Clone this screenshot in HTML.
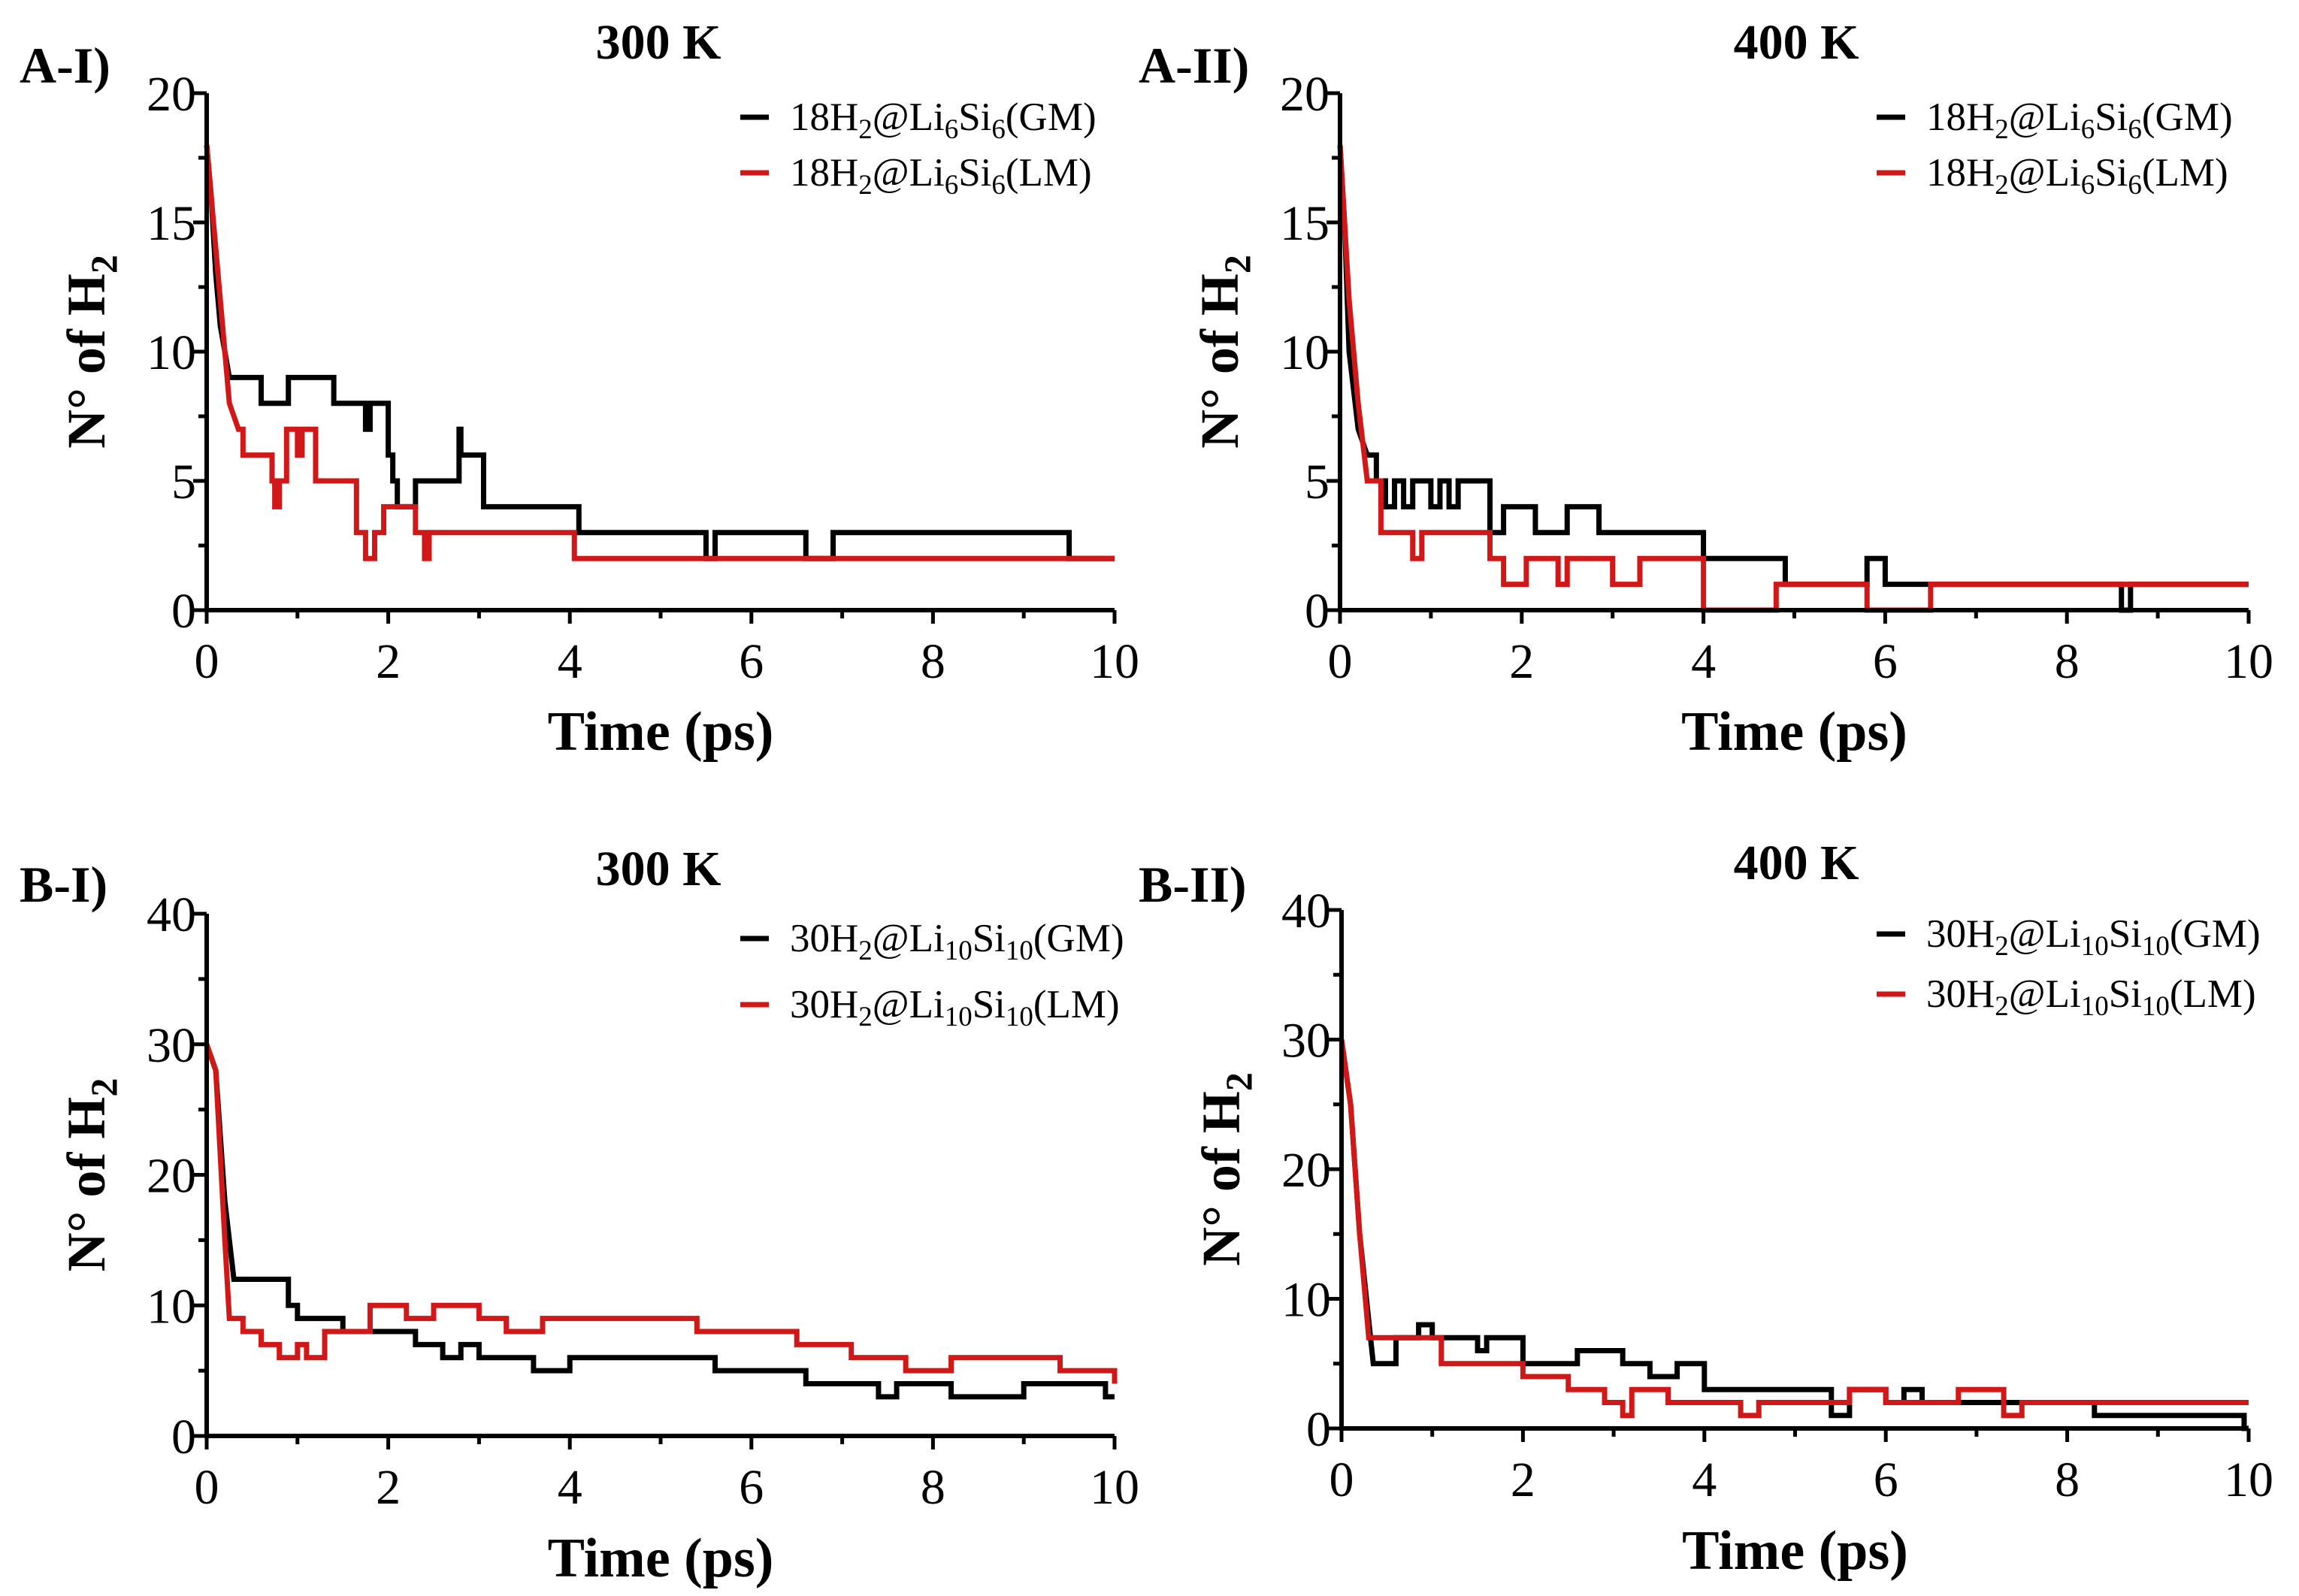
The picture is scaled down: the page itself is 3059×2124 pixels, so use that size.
<!DOCTYPE html>
<html><head><meta charset="utf-8"><style>
body{margin:0;background:#fff}
svg{display:block}
text{font-family:"Liberation Serif",serif}
</style></head><body>
<svg id="fig" width="3059" height="2124" viewBox="0 0 3059 2124" xmlns="http://www.w3.org/2000/svg"></svg>
<script>
// ---- data ----
const xTicks=[0,2,4,6,8,10];
const yTicksA=[0,5,10,15,20];
const yTicksB=[0,10,20,30,40];
const a1GmT=[0,0.05,0.1,0.15,0.2,0.25,0.3,0.6,0.9,1.0,1.4,1.7,1.75,1.8,2.0,2.05,2.1,2.2,2.3,2.7,2.78,2.8,2.85,3.05,4.1,5.5,5.6,5.7,6.6,6.9,9.5,10];
const a1GmV=[18,16,13,11,10,9,9,8,9,9,8,8,7,8,6,5,4,4,5,5,7,6,6,4,3,2,3,3,2,3,2,2];
const a1LmT=[0,0.1,0.2,0.25,0.35,0.4,0.55,0.72,0.75,0.8,0.88,1.0,1.05,1.15,1.2,1.3,1.65,1.75,1.85,1.95,2.3,2.4,2.45,2.6,3.5,4.05,10];
const a1LmV=[18,14,10,8,7,6,6,5,4,5,7,6,7,7,5,5,3,2,3,4,3,2,3,3,3,2,2];
const a2GmT=[0,0.05,0.1,0.2,0.3,0.4,0.5,0.6,0.7,0.8,0.9,1.0,1.1,1.2,1.3,1.4,1.65,1.8,2.15,2.5,2.85,3.3,4.0,4.9,5.8,6.0,8.6,8.7,10];
const a2GmV=[18,15,10,7,6,5,4,5,4,5,5,4,5,4,5,5,3,4,3,4,3,3,2,1,2,1,0,1,1];
const a2LmT=[0,0.1,0.2,0.3,0.45,0.8,0.9,1.65,1.8,2.05,2.4,2.5,3.0,3.3,4.0,4.8,5.8,6.5,10];
const a2LmV=[18,12,8,5,3,2,3,2,1,2,1,2,1,2,0,1,0,1,1];
const b1GmT=[0,0.1,0.2,0.3,0.9,1.0,1.2,1.5,1.75,2.2,2.3,2.6,2.8,3.0,3.3,3.6,4.0,4.6,5.6,6.6,7.4,7.6,8.2,9.0,9.5,9.9,10];
const b1GmV=[30,28,18,12,10,9,9,8,8,8,7,6,7,6,6,5,6,6,5,4,3,4,3,4,4,3,3];
const b1LmT=[0,0.1,0.2,0.25,0.4,0.6,0.8,1.0,1.1,1.3,1.6,1.8,2.2,2.5,3.0,3.3,3.7,5.4,6.0,6.5,7.1,7.7,8.2,9.4,10];
const b1LmV=[30,28,15,9,8,7,6,7,6,8,8,10,9,10,9,8,9,8,8,7,6,5,6,5,4];
const b2GmT=[0,0.1,0.2,0.35,0.6,0.85,1.0,1.5,1.6,2.0,2.6,3.1,3.4,3.7,4.0,5.4,5.6,6.0,6.2,6.4,8.3,9.95,10];
const b2GmV=[30,25,15,5,7,8,7,6,7,5,6,5,4,5,3,1,3,2,3,2,1,0,0];
const b2LmT=[0,0.1,0.2,0.3,0.9,1.1,2.0,2.5,2.9,3.1,3.2,3.6,4.4,4.6,5.6,6.0,6.8,7.3,7.5,10];
const b2LmV=[30,25,15,7,7,5,4,3,2,1,3,2,1,2,3,2,3,1,2,2];

const svg=document.getElementById('fig');
const NS='http://www.w3.org/2000/svg';
function mk(tag,attrs,parent){const e=document.createElementNS(NS,tag);for(const k in attrs)e.setAttribute(k,attrs[k]);(parent||svg).appendChild(e);return e;}

const panels=[
 {id:'a-i',x0:275,x1:1483,y0:812,y1:124,ymax:20,yt:yTicksA,lab:'A-I)',labX:26,labY:110,title:'300 K',tX:876,tY:78,gm:[a1GmT,a1GmV],lm:[a1LmT,a1LmV],n:'18',s1:'6',s2:'6',legX:985,legY:[156,230],xlY:902,xtY:998},
 {id:'a-ii',x0:1783,x1:2992,y0:812,y1:124,ymax:20,yt:yTicksA,lab:'A-II)',labX:1515,labY:110,title:'400 K',tX:2390,tY:78,gm:[a2GmT,a2GmV],lm:[a2LmT,a2LmV],n:'18',s1:'6',s2:'6',legX:2497,legY:[156,230],xlY:902,xtY:998},
 {id:'b-i',x0:275,x1:1483,y0:1911,y1:1216,ymax:40,yt:yTicksB,lab:'B-I)',labX:26,labY:1200,title:'300 K',tX:876,tY:1178,gm:[b1GmT,b1GmV],lm:[b1LmT,b1LmV],n:'30',s1:'10',s2:'10',legX:985,legY:[1249,1337],xlY:2001,xtY:2098},
 {id:'b-ii',x0:1785,x1:2992,y0:1901,y1:1211,ymax:40,yt:yTicksB,lab:'B-II)',labX:1515,labY:1200,title:'400 K',tX:2390,tY:1170,gm:[b2GmT,b2GmV],lm:[b2LmT,b2LmV],n:'30',s1:'10',s2:'10',legX:2497,legY:[1243,1323],xlY:1991,xtY:2088}
];

panels.forEach(p=>{
  const g=mk('g',{});
  
  
  const sx=v=>p.x0+(p.x1-p.x0)*v/10;
  const sy=v=>p.y0+(p.y1-p.y0)*v/p.ymax;
  [[p.gm,'#000','gm'],[p.lm,'#d01818','lm']].forEach(([s,c,nm])=>{
    const T=s[0],V=s[1];let d='M'+sx(T[0])+','+sy(V[0]);
    for(let i=1;i<T.length;i++){
      if(T[i]<=0.35){d+=' L'+sx(T[i])+','+sy(V[i]);}
      else{d+=' H'+sx(T[i])+' V'+sy(V[i]);}
    }
    const path=mk('path',{d:d,fill:'none',stroke:c,'stroke-width':7,'stroke-linejoin':'miter'},g);
    
    
  });
  const ax=mk('path',{d:`M${p.x0},${p.y1} V${p.y0} H${p.x1}`,fill:'none',stroke:'#000','stroke-width':6},g);
  
  
  for(let v=0;v<=10;v+=1){const maj=v%2===0;mk('line',{x1:sx(v),x2:sx(v),y1:p.y0,y2:p.y0+(maj?18:11),stroke:'#000','stroke-width':5},g);}
  const ystep=p.ymax/8;
  for(let v=0;v<=p.ymax;v+=ystep){const maj=Math.abs(v/(p.ymax/4)-Math.round(v/(p.ymax/4)))<1e-6;mk('line',{x1:p.x0,x2:p.x0-(maj?18:11),y1:sy(v),y2:sy(v),stroke:'#000','stroke-width':5},g);}
  xTicks.forEach(v=>{const t=mk('text',{x:sx(v),y:p.xlY,'font-size':66,'text-anchor':'middle'},g);t.textContent=v;
    
    });
  p.yt.forEach(v=>{const t=mk('text',{x:p.x0-14,y:sy(v)+23,'font-size':66,'text-anchor':'end'},g);t.textContent=v;
    
    });
  let t=mk('text',{x:(p.x0+p.x1)/2,y:p.xtY,'font-size':74,'font-weight':'bold','text-anchor':'middle'},g);t.textContent='Time (ps)';
  
  
  const cy=(p.y0+p.y1)/2;
  t=mk('text',{x:0,y:0,'font-size':72,'font-weight':'bold','text-anchor':'middle',transform:`translate(${p.x0-136},${cy}) rotate(-90)`},g);
  t.innerHTML='N° of H<tspan font-size="50" dy="16">2</tspan>';
  
  
  t=mk('text',{x:p.labX,y:p.labY,'font-size':68,'font-weight':'bold'},g);t.textContent=p.lab;
  
  
  t=mk('text',{x:p.tX,y:p.tY,'font-size':66,'font-weight':'bold','text-anchor':'middle'},g);t.textContent=p.title;
  
  
  [['GM','#000'],['LM','#d01818']].forEach(([k,c],i)=>{
    const y=p.legY[i];
    const ln=mk('line',{x1:p.legX,x2:p.legX+38,y1:y,y2:y,stroke:c,'stroke-width':7},g);
    
    
    const tx=mk('text',{x:p.legX+66,y:y+17,'font-size':53},g);
    tx.innerHTML=`${p.n}H<tspan font-size="37" dy="11">2</tspan><tspan dy="-11">@Li</tspan><tspan font-size="37" dy="11">${p.s1}</tspan><tspan dy="-11">Si</tspan><tspan font-size="37" dy="11">${p.s2}</tspan><tspan dy="-11">(${k})</tspan>`;
    
    
  });
});
</script>
</body></html>
